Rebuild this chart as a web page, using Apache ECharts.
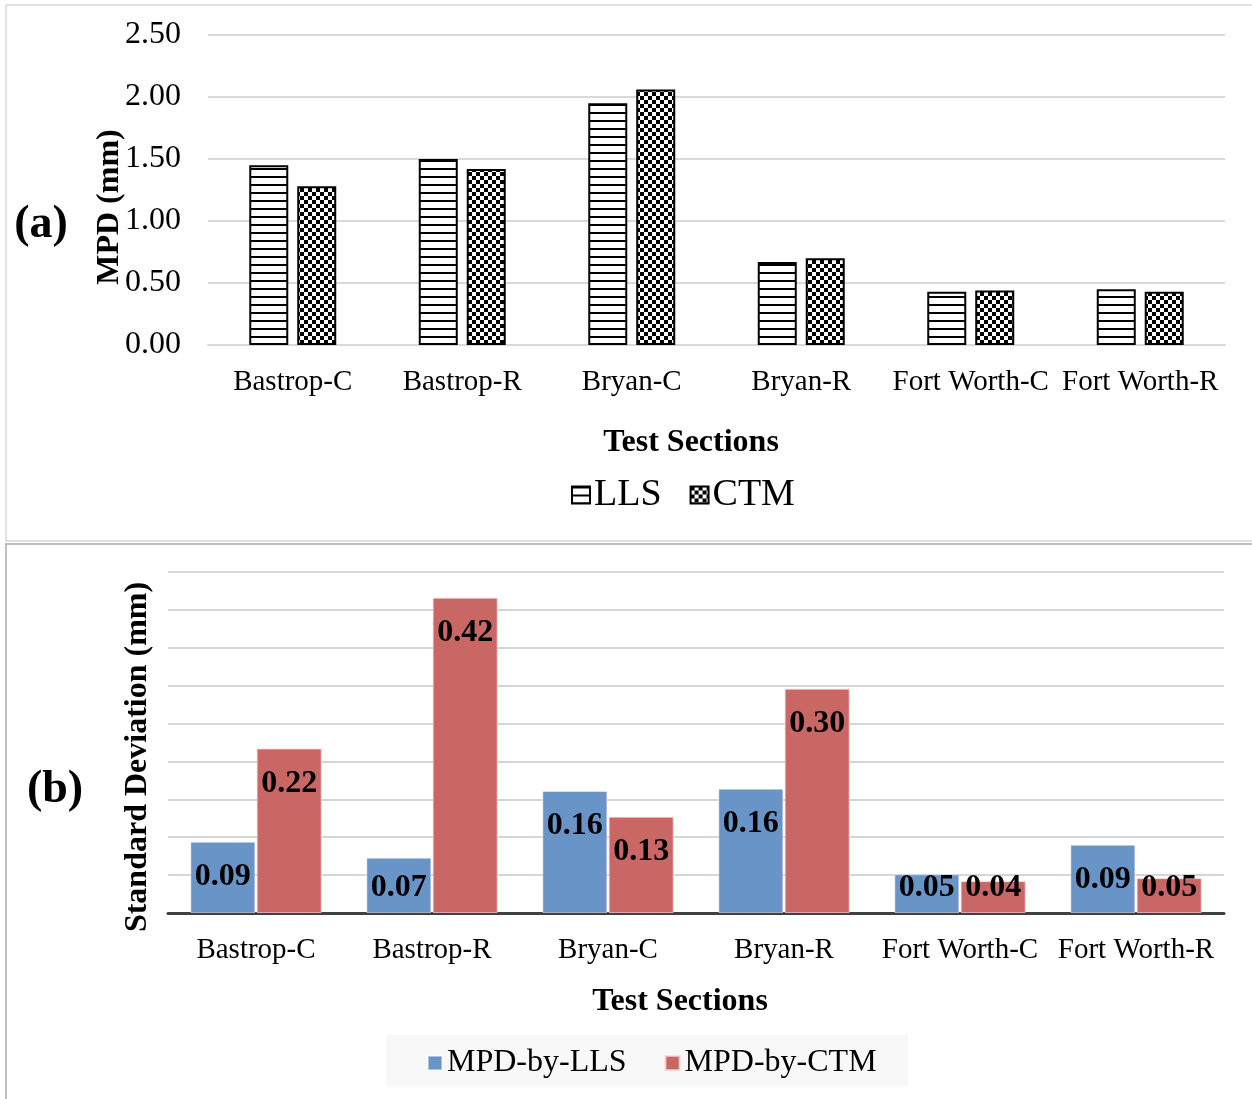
<!DOCTYPE html>
<html>
<head>
<meta charset="utf-8">
<script src="https://cdn.jsdelivr.net/npm/echarts@6/dist/echarts.min.js"></script>
<style>
html,body{margin:0;padding:0;background:#fff;}
#c{width:1252px;height:1099px;}
</style>
</head>
<body>
<div id="c"></div>
<script>
// ---- data ----
const categories = ['Bastrop-C', 'Bastrop-R', 'Bryan-C', 'Bryan-R', 'Fort Worth-C', 'Fort Worth-R'];
const mpdLLS = [1.45, 1.50, 1.95, 0.67, 0.43, 0.45];
const mpdCTM = [1.28, 1.42, 2.06, 0.70, 0.44, 0.43];
const sdLLS = [0.094, 0.073, 0.161, 0.164, 0.051, 0.090];
const sdCTM = [0.217, 0.416, 0.127, 0.296, 0.042, 0.046];
const topTicks = { min: 0, max: 2.5, interval: 0.5 };
const botTicks = { min: 0, max: 0.45, interval: 0.05 };

const FONT = '"Liberation Serif", "Times New Roman", serif';

function linesPattern() {
  const c = document.createElement('canvas');
  c.width = 8; c.height = 8;
  const g = c.getContext('2d');
  g.fillStyle = '#fff'; g.fillRect(0, 0, 8, 8);
  g.fillStyle = '#000'; g.fillRect(0, 0, 8, 2);
  return c;
}
function checkPattern() {
  const c = document.createElement('canvas');
  c.width = 8; c.height = 8;
  const g = c.getContext('2d');
  g.fillStyle = '#fff'; g.fillRect(0, 0, 8, 8);
  g.fillStyle = '#000'; g.fillRect(0, 0, 4, 4); g.fillRect(4, 4, 4, 4);
  return c;
}

function sdData(arr) {
  return arr.map(v => ({
    value: v,
    label: v < 0.08 ? { position: 'insideBottom', distance: 9 } : { position: 'insideTop', distance: 19 }
  }));
}

function txt(x, y, s, size, rot) {
  return {
    type: 'text', x: x, y: y, rotation: rot || 0, silent: true,
    style: { text: s, font: 'bold ' + size + 'px ' + FONT, fill: '#000', align: 'center', verticalAlign: 'middle' }
  };
}

const chart = echarts.init(document.getElementById('c'), null, { renderer: 'canvas' });
const option = {
  backgroundColor: '#fff',
  animation: false,
  textStyle: { fontFamily: FONT, color: '#000' },
  graphic: [
    { type: 'rect', shape: { x: 6, y: 5, width: 1300, height: 536 }, style: { fill: 'none', stroke: '#d9d9d9', lineWidth: 1.5 }, silent: true, z: -10 },
    { type: 'rect', shape: { x: 6, y: 544, width: 1300, height: 600 }, style: { fill: 'none', stroke: '#bfbfbf', lineWidth: 2 }, silent: true, z: -10 },
    { type: 'rect', shape: { x: 386, y: 1035, width: 522, height: 51 }, style: { fill: '#f8f8f8' }, silent: true, z: -5 },
    txt(41, 225, '(a)', 46),
    txt(55, 790, '(b)', 46),
    txt(110, 207, 'MPD (mm)', 32, Math.PI / 2),
    txt(138, 757, 'Standard Deviation (mm)', 32, Math.PI / 2),
    txt(691, 443, 'Test Sections', 32),
    txt(680, 1002, 'Test Sections', 32)
  ],
  grid: [
    { left: 208, right: 27, top: 35, height: 310 },
    { left: 168, right: 28, top: 572, height: 341 }
  ],
  legend: [
    {
      data: ['LLS', 'CTM'],
      left: 566, top: 471, icon: 'rect',
      itemWidth: 18, itemHeight: 17, itemGap: 28,
      textStyle: { fontFamily: FONT, fontSize: 38, color: '#000', padding: [0, 0, 0, -1] }
    },
    {
      data: ['MPD-by-LLS', 'MPD-by-CTM'],
      left: 422, top: 1042, icon: 'rect',
      itemWidth: 14, itemHeight: 14, itemGap: 38,
      textStyle: { fontFamily: FONT, fontSize: 32, color: '#000' }
    }
  ],
  xAxis: [
    {
      gridIndex: 0, type: 'category', data: categories,
      axisLine: { lineStyle: { color: '#d9d9d9', width: 2 } },
      axisTick: { show: false },
      axisLabel: { interval: 0, fontFamily: FONT, fontSize: 29, color: '#000', margin: 23 }
    },
    {
      gridIndex: 1, type: 'category', data: categories,
      axisLine: { lineStyle: { color: '#404040', width: 3 } },
      axisTick: { show: false },
      axisLabel: { interval: 0, fontFamily: FONT, fontSize: 29, color: '#000', margin: 23 }
    }
  ],
  yAxis: [
    {
      gridIndex: 0, type: 'value', min: topTicks.min, max: topTicks.max, interval: topTicks.interval,
      axisLine: { show: false }, axisTick: { show: false },
      splitLine: { lineStyle: { color: '#d9d9d9', width: 2 } },
      axisLabel: { fontFamily: FONT, fontSize: 32, color: '#000', margin: 27, formatter: v => v.toFixed(2) }
    },
    {
      gridIndex: 1, type: 'value', min: botTicks.min, max: botTicks.max, interval: botTicks.interval,
      axisLine: { show: false }, axisTick: { show: false },
      splitLine: { lineStyle: { color: '#c8c8c8', width: 1.5 } },
      axisLabel: { show: false }
    }
  ],
  series: [
    {
      name: 'LLS', type: 'bar', xAxisIndex: 0, yAxisIndex: 0, data: mpdLLS,
      barWidth: 39, barGap: '23%',
      itemStyle: { color: { image: linesPattern(), repeat: 'repeat' }, borderColor: '#000', borderWidth: 2 }
    },
    {
      name: 'CTM', type: 'bar', xAxisIndex: 0, yAxisIndex: 0, data: mpdCTM,
      barWidth: 39, barGap: '23%',
      itemStyle: { color: { image: checkPattern(), repeat: 'repeat' }, borderColor: '#000', borderWidth: 2 }
    },
    {
      name: 'MPD-by-LLS', type: 'bar', xAxisIndex: 1, yAxisIndex: 1, data: sdData(sdLLS),
      barWidth: 65, barGap: '2%',
      itemStyle: { color: '#6994c8', borderColor: 'rgba(255,255,255,0.45)', borderWidth: 1 },
      label: { show: true, formatter: p => p.value.toFixed(2), fontFamily: FONT, fontSize: 32, fontWeight: 'bold', color: '#000' }
    },
    {
      name: 'MPD-by-CTM', type: 'bar', xAxisIndex: 1, yAxisIndex: 1, data: sdData(sdCTM),
      barWidth: 65, barGap: '2%',
      itemStyle: { color: '#c96765', borderColor: 'rgba(255,210,210,0.7)', borderWidth: 1 },
      label: { show: true, formatter: p => p.value.toFixed(2), fontFamily: FONT, fontSize: 32, fontWeight: 'bold', color: '#000' }
    }
  ]
};
chart.setOption(option);
</script>
</body>
</html>
